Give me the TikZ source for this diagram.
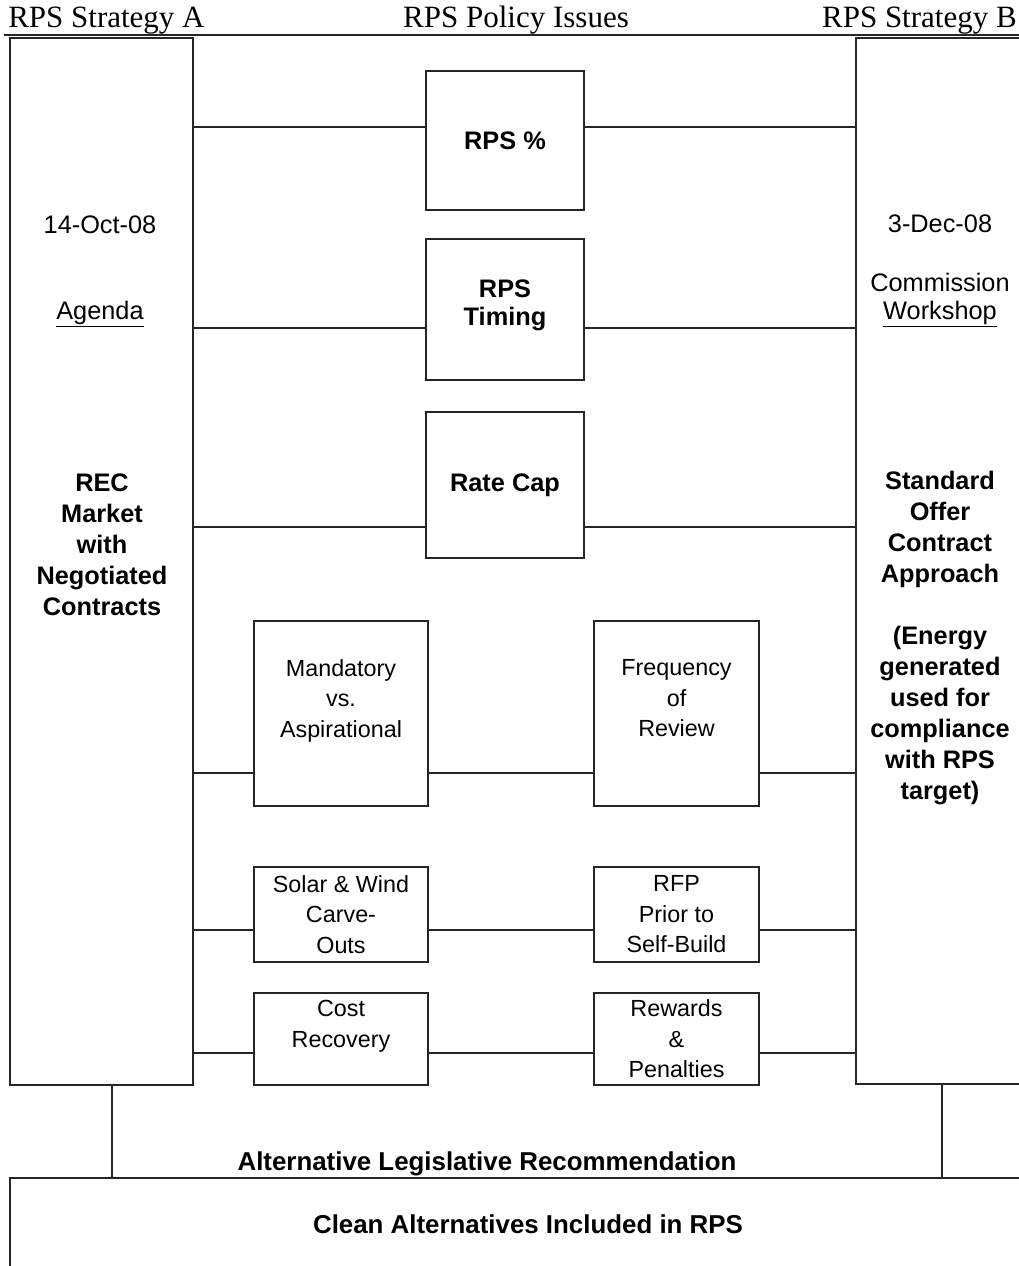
\documentclass[tikz,border=0pt]{standalone}
\usepackage{fontspec}
\setmainfont{Liberation Sans}
\newfontfamily\headserif{Liberation Serif}
\begin{document}
\begin{tikzpicture}[x=0.75pt,y=-0.75pt,
  ln/.style={line width=1pt, draw=black!85},
  box/.style={draw=black!85, line width=1pt, inner sep=0pt, align=center, fill=white},
  reg/.style={font=\fontsize{17.5}{22.9}\selectfont},
  bld/.style={font=\bfseries\fontsize{19}{23.25}\selectfont},
  datef/.style={font=\fontsize{19}{21}\selectfont, align=center, inner sep=0pt},
  head/.style={font=\headserif\fontsize{23.25}{26}\selectfont, inner sep=0pt},
  big/.style={font=\bfseries\fontsize{19.4}{23}\selectfont, inner sep=0pt}
]
\useasboundingbox (0,0) rectangle (1019,1266);

% header
\node[head, anchor=base west] (hA) at (8,28) {RPS Strategy A};
\node[head, anchor=base] (hP) at (516,28) {RPS Policy Issues};
\node[head, anchor=base east] (hB) at (1017,28) {RPS Strategy B};
\coordinate (hl) at (4,35);
\coordinate (hr) at (1019,35);
\draw[ln] (hl) -- (hr);

% side boxes
\node[box, minimum width=137.25pt, minimum height=785.25pt] (LA) at (101.5,561.5) {};
\node[box, minimum width=126pt, minimum height=784.5pt] (RB) at (940,561) {};

% bottom box
\node[box, minimum width=777pt, minimum height=91.5pt] (clean) at (528,1239) {};
\node[big] (cleanT) at (528,1224) {Clean Alternatives Included in RPS};
\node[big] (altT) at (487,1164) {Alternative Legislative Recommendation};

% side texts
\node[datef] (dA) at (100,225) {14-Oct-08};
\node[datef] (agA) at (100,314) {\underline{Agenda}};
\node[bld, align=center, inner sep=0pt] (recA) at (102,545) {REC\\Market\\with\\Negotiated\\Contracts};
\node[datef] (dB) at (940,224) {3-Dec-08};
\node[datef] (cwB) at (940,300) {Commission\\\underline{Workshop}};
\node[bld, align=center, inner sep=0pt] (socB) at (940,638) {Standard\\Offer\\Contract\\Approach\\[23.25pt](Energy\\generated\\used for\\compliance\\with RPS\\target)};

% middle boxes
\node[box, bld, minimum width=118.5pt, minimum height=104.25pt] (pct) at (505,140.5) {RPS \%};
\node[box, font=\bfseries\fontsize{19}{21}\selectfont, minimum width=118.5pt, minimum height=105.75pt] (tim) at (505,309.5) {RPS\\Timing\\[-10pt]~};
\node[box, bld, minimum width=118.5pt, minimum height=109.5pt] (rate) at (505,485) {Rate Cap};
\node[box, reg, minimum width=130.5pt, minimum height=138.75pt] (mand) at (341,713.5) {Mandatory\\vs.\\Aspirational\\~};
\node[box, reg, minimum width=123.75pt, minimum height=138.75pt] (freq) at (676.5,713.5) {Frequency\\of\\Review\\~};
\node[box, reg, minimum width=130.5pt, minimum height=71.25pt] (solar) at (341,914.5) {Solar \& Wind\\Carve-\\Outs};
\node[box, reg, minimum width=123.75pt, minimum height=71.25pt] (rfp) at (676.5,914.5) {RFP\\Prior to\\Self-Build};
\node[box, reg, minimum width=130.5pt, minimum height=69pt] (cost) at (341,1039) {Cost\\Recovery\\~};
\node[box, reg, minimum width=123.75pt, minimum height=69pt] (rew) at (676.5,1039) {Rewards\\\&\\Penalties};

% row levels
\coordinate (r1) at (0,127);
\coordinate (r2) at (0,328);
\coordinate (r3) at (0,527);
\coordinate (r4) at (0,773);
\coordinate (r5) at (0,930);
\coordinate (r6) at (0,1053);
\coordinate (lx) at (112,0);
\coordinate (rx) at (942,0);

% connectors
\draw[ln] (LA.east |- r1) -- (pct.west |- r1);
\draw[ln] (pct.east |- r1) -- (RB.west |- r1);
\draw[ln] (LA.east |- r2) -- (tim.west |- r2);
\draw[ln] (tim.east |- r2) -- (RB.west |- r2);
\draw[ln] (LA.east |- r3) -- (rate.west |- r3);
\draw[ln] (rate.east |- r3) -- (RB.west |- r3);
\draw[ln] (LA.east |- r4) -- (mand.west |- r4);
\draw[ln] (mand.east |- r4) -- (freq.west |- r4);
\draw[ln] (freq.east |- r4) -- (RB.west |- r4);
\draw[ln] (LA.east |- r5) -- (solar.west |- r5);
\draw[ln] (solar.east |- r5) -- (rfp.west |- r5);
\draw[ln] (rfp.east |- r5) -- (RB.west |- r5);
\draw[ln] (LA.east |- r6) -- (cost.west |- r6);
\draw[ln] (cost.east |- r6) -- (rew.west |- r6);
\draw[ln] (rew.east |- r6) -- (RB.west |- r6);
\draw[ln] (LA.south -| lx) -- (clean.north -| lx);
\draw[ln] (RB.south -| rx) -- (clean.north -| rx);
\end{tikzpicture}
\end{document}
